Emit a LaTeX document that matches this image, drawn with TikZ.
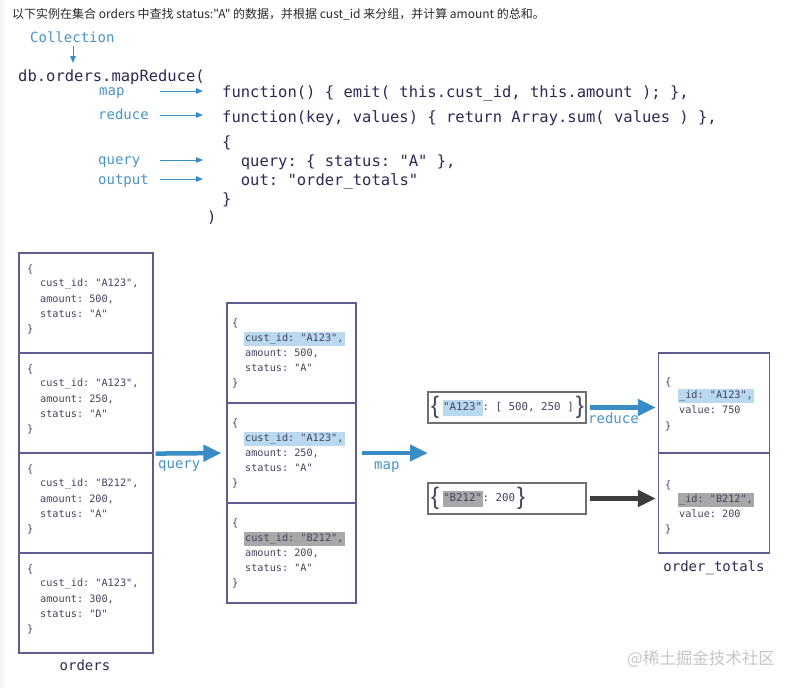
\documentclass[tikz,border=0pt]{standalone}
\usepackage{fontspec}
\setmonofont{DejaVu Sans Mono}
\newfontfamily\cjk{Noto Sans CJK SC}
\newfontfamily\bracefont{Liberation Sans}
\usetikzlibrary{arrows.meta}
\definecolor{navy}{HTML}{2B2B55}
\definecolor{doctext}{HTML}{44445E}
\definecolor{boxline}{HTML}{5E5E8C}
\definecolor{mblue}{HTML}{3A8CC4}
\definecolor{lblue}{HTML}{4A94C6}
\definecolor{hlblue}{HTML}{BAD8EE}
\definecolor{hlgray}{HTML}{A8A8A8}
\definecolor{darkarrow}{HTML}{3C3C3C}
\definecolor{keyline}{HTML}{707070}
\definecolor{titlegray}{HTML}{2A2A2A}
\definecolor{wmgray}{HTML}{C6C6C6}
\newcommand{\keybrace}[1]{\raisebox{-3pt}{\bracefont\fontsize{24}{24}\selectfont#1}}
\newcommand{\orderdoc}[6]{%
  \node[doc] (#1a) at (#2+8,#3+15) {\{};
  \node[doc] (#1b) at (#2+21,#3+29) {cust\_id: "#4",};
  \node[doc] (#1c) at (#2+21,#3+45) {amount: #5,};
  \node[doc] (#1d) at (#2+21,#3+60) {status: "#6"};
  \node[doc] (#1e) at (#2+8,#3+75) {\}};
}
\newcommand{\mapdoc}[6]{%
  \node[doc] (#1a) at (#2+5,#3+19) {\{};
  \node[doc,#4] (#1b) at (#2+16.5,#3+34) {cust\_id: "#5",};
  \node[doc] (#1c) at (#2+18,#3+49) {amount: #6,};
  \node[doc] (#1d) at (#2+18,#3+64) {status: "A"};
  \node[doc] (#1e) at (#2+5,#3+79) {\}};
}
\begin{document}
\begin{tikzpicture}[x=1pt,y=-1pt,
  title/.style={anchor=west,inner sep=0,text=titlegray,font=\cjk\fontsize{12}{14}\selectfont},
  code/.style={anchor=west,inner sep=0,yshift=-2pt,text=navy,font=\fontsize{15.5}{18}\selectfont\ttfamily,text height=11pt,text depth=3pt},
  lbl/.style={anchor=west,inner sep=0,yshift=-2pt,text=lblue,font=\fontsize{14}{16}\selectfont\ttfamily,text height=10pt,text depth=3pt},
  boxcaption/.style={inner sep=0,yshift=-2pt,text=navy,font=\fontsize{14}{16}\selectfont\ttfamily,text height=10pt,text depth=3pt},
  doc/.style={anchor=west,inner sep=0,yshift=-1.5pt,text=doctext,font=\fontsize{10.2}{12}\selectfont\ttfamily,text height=7.5pt,text depth=2.5pt},
  hlb/.style={fill=hlblue,inner xsep=1.5pt,inner ysep=2pt},
  hlg/.style={fill=hlgray,inner xsep=1.5pt,inner ysep=2pt},
  docbox/.style={draw=boxline,line width=1.2pt,inner sep=0,minimum width=134pt,minimum height=100pt},
  midbox/.style={draw=boxline,line width=1.2pt,inner sep=0,minimum width=129pt,minimum height=100pt},
  otbox/.style={draw=boxline,line width=1.2pt,inner sep=0,minimum width=111pt,minimum height=100pt},
  keybox/.style={draw=keyline,line width=1.2pt,inner sep=0,minimum width=158pt,minimum height=31pt},
  keytext/.style={anchor=base west,inner sep=0,text=doctext,font=\fontsize{10.8}{12}\selectfont\ttfamily},
  thinarrow/.style={draw=mblue,line width=1pt,-{Triangle[length=7pt,width=5.5pt]}},
  bigarrow/.style={draw=mblue,line width=4.5pt,-{Triangle[length=18pt,width=16pt]}},
  darkbigarrow/.style={draw=darkarrow,line width=4.5pt,-{Triangle[length=18pt,width=16pt]}},
]
\useasboundingbox (0,0) rectangle (796,688);
\fill[white] (0,0) rectangle (796,688);
\fill[gray!7] (0,0) rectangle (4,688);

% title
\node[title] (title) at (12,14) {以下实例在集合 orders 中查找 status:"A" 的数据，并根据 cust\_id 来分组，并计算 amount 的总和。};

% code
\node[lbl] (lcoll) at (30,37) {Collection};
\node[code] (db) at (18,75) {db.orders.mapReduce(};
\coordinate (collE) at (73,63);
\draw[thinarrow] (lcoll.south -| collE) -- (collE);

\node[code] (cmap) at (222,91) {function() \{ emit( this.cust\_id, this.amount ); \},};
\node[code] (cred) at (222,116) {function(key, values) \{ return Array.sum( values ) \},};
\node[code] (cob) at (222,141) {\{};
\node[code] (cq) at (240.7,160) {query: \{ status: "A" \},};
\node[code] (cout) at (240.7,179) {out: "order\_totals"};
\node[code] (ccb) at (222,198) {\}};
\node[code] (cclose) at (207,216) {)};

\node[lbl] (lmap) at (99,90) {map};
\node[lbl] (lred) at (98,114) {reduce};
\node[lbl] (lq) at (98,159) {query};
\node[lbl] (lout) at (98,179) {output};
\coordinate (amap) at (160,91);   \coordinate (amapE) at (203,91);
\coordinate (ared) at (160,115);  \coordinate (aredE) at (203,115);
\coordinate (aq) at (160,160);    \coordinate (aqE) at (203,160);
\coordinate (aout) at (160,179);  \coordinate (aoutE) at (203,179);
\draw[thinarrow] (amap) -- (amapE);
\draw[thinarrow] (ared) -- (aredE);
\draw[thinarrow] (aq) -- (aqE);
\draw[thinarrow] (aout) -- (aoutE);

% orders collection
\node[docbox] (o1) at (86,303) {};
\node[docbox] (o2) at (86,403) {};
\node[docbox] (o3) at (86,503) {};
\node[docbox] (o4) at (86,603) {};
\orderdoc{o1t}{19}{253}{A123}{500}{A}
\orderdoc{o2t}{19}{353}{A123}{250}{A}
\orderdoc{o3t}{19}{453}{B212}{200}{A}
\orderdoc{o4t}{19}{553}{A123}{300}{D}
\node[boxcaption] (lorders) at (85,665) {orders};

% query result
\node[midbox] (m1) at (291.5,353) {};
\node[midbox] (m2) at (291.5,453) {};
\node[midbox] (m3) at (291.5,553) {};
\mapdoc{m1t}{227}{303}{hlb}{A123}{500}
\mapdoc{m2t}{227}{403}{hlb}{A123}{250}
\mapdoc{m3t}{227}{503}{hlg}{B212}{200}

\draw[bigarrow,shorten <=2pt,shorten >=5pt] (o2.south east) -- (m2.west);
\node[lbl] (lqa) at (158,463) {query};

% map output
\coordinate (mapend) at (428,453);
\draw[bigarrow,shorten <=5pt] (m2.east) -- (mapend);
\node[lbl] (lma) at (374,464) {map};

\node[keybox] (k1) at (507,407.5) {};
\node[keybox] (k2) at (507,498.5) {};
\node[keytext] (k1t) at (431,410.5) {\keybrace{\{}\hspace{3.5pt}{\setlength{\fboxsep}{0.5pt}\colorbox{hlblue}{\rule[-4.5pt]{0pt}{14.5pt}"A123"}}: [ 500, 250 ]\hspace{2pt}\keybrace{\}}};
\node[keytext] (k2t) at (431,501.5) {\keybrace{\{}\hspace{3.5pt}{\setlength{\fboxsep}{0.5pt}\colorbox{hlgray}{\rule[-4.5pt]{0pt}{14.5pt}"B212"}}: 200\hspace{2pt}\keybrace{\}}};

% order_totals
\node[otbox] (ot1) at (714,403) {};
\node[otbox] (ot2) at (714,503) {};
\node[doc] (ot1a) at (665,381) {\{};
\node[doc,hlb] (ot1b) at (677.5,394) {\_id: "A123",};
\node[doc] (ot1c) at (679,409) {value: 750};
\node[doc] (ot1d) at (665,425) {\}};
\node[doc] (ot2a) at (665,484) {\{};
\node[doc,hlg] (ot2b) at (677.5,498) {\_id: "B212",};
\node[doc] (ot2c) at (679,513) {value: 200};
\node[doc] (ot2d) at (665,528) {\}};
\node[boxcaption] (lot) at (714,566) {order\_totals};

\draw[bigarrow,shorten <=3pt,shorten >=2pt] (k1.east) -- (k1.east -| ot1.west);
\node[lbl] (lra) at (588,418) {reduce};
\draw[darkbigarrow,shorten <=3pt,shorten >=2pt] (k2.east) -- (k2.east -| ot2.west);

% watermark
\node[anchor=west,inner sep=0,text=wmgray,font=\cjk\fontsize{16.5}{18}\selectfont] (wm) at (627,659) {@稀土掘金技术社区};
\end{tikzpicture}
\end{document}
